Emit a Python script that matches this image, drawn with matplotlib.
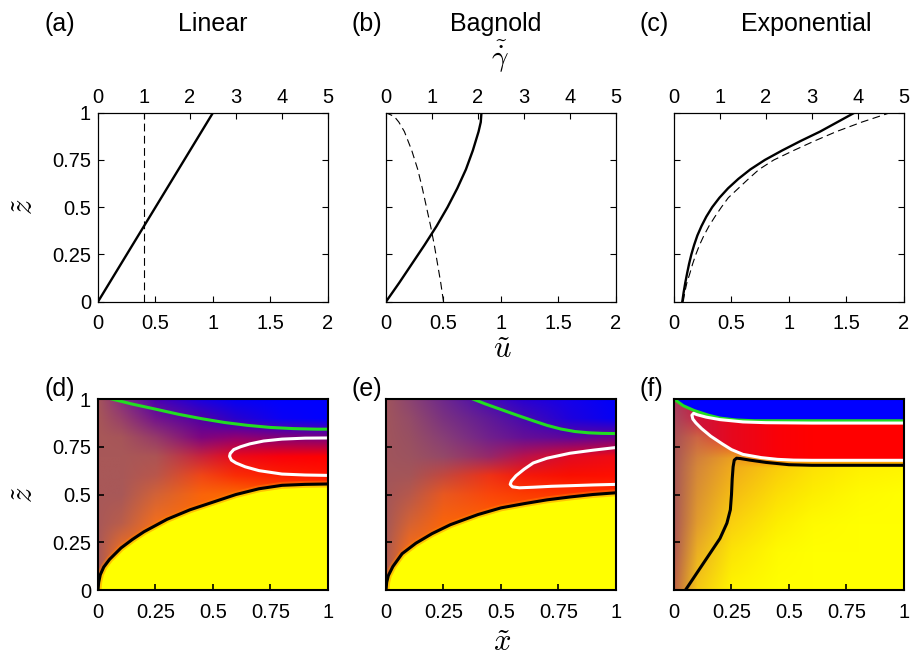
import numpy as np
import matplotlib
matplotlib.use("Agg")
import matplotlib.pyplot as plt
from matplotlib.patches import Polygon

plt.rcParams['font.family'] = ['Liberation Sans', 'DejaVu Sans']
plt.rcParams['mathtext.fontset'] = 'cm'

# ---- top row: velocity (solid, bottom axis) and shear rate (dashed, top axis)
z_lin = [0, 1]
u_lin = [0, 1.0]
zg_lin = [0, 1]
g_lin = [1.0, 1.0]

z_bag = [0, 0.1, 0.2, 0.3, 0.4, 0.5, 0.6, 0.7, 0.8, 0.9, 0.95, 1.0]
u_bag = [0, 0.115, 0.225, 0.335, 0.44, 0.535, 0.62, 0.695, 0.755, 0.805, 0.824, 0.83]
zg_bag = [0, 0.1, 0.2, 0.3, 0.4, 0.5, 0.6, 0.7, 0.8, 0.9, 0.95, 0.98, 1.0]
g_bag = [1.25, 1.19, 1.12, 1.05, 0.97, 0.88, 0.79, 0.69, 0.56, 0.40, 0.28, 0.18, 0.0]

z_exp = [0, 0.05, 0.1, 0.15, 0.2, 0.25, 0.3, 0.35, 0.4, 0.45, 0.5,
         0.55, 0.6, 0.65, 0.7, 0.75, 0.8, 0.85, 0.9, 0.95, 1.0]
u_exp = [0.072, 0.084, 0.098, 0.114, 0.131, 0.151, 0.175, 0.203, 0.239, 0.281, 0.332,
         0.395, 0.47, 0.56, 0.664, 0.79, 0.94, 1.10, 1.27, 1.42, 1.57]
zg_exp = z_exp
g_exp = [0.2, 0.235, 0.28, 0.345, 0.405, 0.475, 0.555, 0.65, 0.76, 0.89, 1.03,
         1.18, 1.40, 1.62, 1.85, 2.17, 2.6, 3.05, 3.53, 4.08, 4.70]

titles = ['Linear', 'Bagnold', 'Exponential']
top_letters = ['(a)', '(b)', '(c)']
bot_letters = ['(d)', '(e)', '(f)']

# ---- bottom row: contour lines (x, z)
green_d_x = [0.06, 0.15, 0.25, 0.35, 0.45, 0.55, 0.65, 0.75, 0.85, 0.95, 1.0]
green_d_z = [1.0, 0.973, 0.947, 0.92, 0.897, 0.877, 0.862, 0.851, 0.845, 0.842, 0.842]
white_d_x = [1.0, 0.9, 0.8, 0.72, 0.66, 0.62, 0.59, 0.575, 0.572, 0.58, 0.6, 0.64, 0.7, 0.8, 0.9, 1.0]
white_d_z = [0.796, 0.795, 0.79, 0.78, 0.765, 0.75, 0.735, 0.715, 0.70, 0.68, 0.665, 0.645, 0.625, 0.607, 0.602, 0.60]
black_d_x = [0, 0.003, 0.01, 0.025, 0.05, 0.1, 0.15, 0.2, 0.3, 0.4, 0.5, 0.6, 0.7, 0.8, 0.9, 1.0]
black_d_z = [0, 0.04, 0.08, 0.12, 0.16, 0.22, 0.265, 0.305, 0.37, 0.42, 0.46, 0.5, 0.53, 0.548, 0.553, 0.555]

green_e_x = [0.378, 0.43, 0.5, 0.57, 0.64, 0.7, 0.76, 0.82, 0.88, 0.94, 1.0]
green_e_z = [1.0, 0.975, 0.945, 0.915, 0.886, 0.862, 0.843, 0.83, 0.823, 0.82, 0.819]
white_e_x = [1.0, 0.9, 0.8, 0.7, 0.64, 0.6, 0.565, 0.545, 0.54, 0.55, 0.58, 0.64, 0.72, 0.8, 0.9, 1.0]
white_e_z = [0.746, 0.732, 0.716, 0.69, 0.665, 0.632, 0.598, 0.57, 0.553, 0.54, 0.535, 0.538, 0.543, 0.546, 0.55, 0.553]
black_e_x = [0, 0.003, 0.01, 0.03, 0.07, 0.13, 0.2, 0.28, 0.4, 0.5, 0.6, 0.7, 0.8, 0.9, 1.0]
black_e_z = [0, 0.04, 0.075, 0.123, 0.19, 0.245, 0.295, 0.342, 0.395, 0.43, 0.452, 0.472, 0.487, 0.5, 0.509]

green_f_x = [0, 0.04, 0.087, 0.15, 0.2, 0.27, 0.35, 0.5, 0.7, 1.0]
green_f_z = [1.0, 0.965, 0.94, 0.915, 0.9, 0.89, 0.886, 0.886, 0.886, 0.886]
white_f_x = [1.0, 0.6, 0.4, 0.3, 0.2, 0.14, 0.1, 0.085, 0.078, 0.082, 0.095, 0.12, 0.16, 0.21, 0.25, 0.3,
             0.38, 0.45, 0.52, 0.6, 1.0]
white_f_z = [0.874, 0.874, 0.876, 0.88, 0.892, 0.905, 0.918, 0.925, 0.915, 0.895, 0.875, 0.845, 0.805, 0.765,
             0.735, 0.71, 0.693, 0.684, 0.68, 0.679, 0.679]
black_f_x = [0.05, 0.1, 0.15, 0.2, 0.23, 0.245, 0.25, 0.253, 0.257, 0.262, 0.272, 0.29, 0.33, 0.4, 0.5, 0.6, 1.0]
black_f_z = [0.0, 0.09, 0.18, 0.27, 0.35, 0.42, 0.5, 0.58, 0.645, 0.68, 0.69, 0.688, 0.68, 0.668, 0.656, 0.653, 0.653]

# ---- colour samples of the maps (rows top -> bottom)
x_nodes = [0, 0.1, 0.25, 0.45, 0.6, 0.8, 1.0]
z_nodes = [1.0, 0.9, 0.8, 0.7, 0.6, 0.5, 0.35, 0.2, 0.0]
OR = (255, 110, 0)
YE = (255, 255, 0)
col_d = [
    [(165, 85, 90), (135, 45, 128), (75, 0, 175), (25, 0, 225), (5, 0, 245), (0, 0, 255), (0, 0, 255)],
    [(167, 87, 88), (152, 64, 106), (115, 20, 140), (80, 0, 165), (40, 0, 205), (10, 0, 245), (0, 0, 255)],
    [(168, 88, 88), (166, 85, 89), (150, 58, 105), (125, 5, 128), (145, 0, 112), (130, 0, 120), (120, 0, 130)],
    [(168, 88, 88), (168, 88, 88), (172, 84, 84), (200, 35, 60), (235, 10, 25), (250, 0, 10), (255, 0, 0)],
    [(168, 88, 88), (168, 88, 88), (185, 86, 75), (240, 70, 22), (250, 45, 5), (252, 30, 0), (255, 20, 0)],
    [(168, 88, 88), (168, 88, 88), (210, 98, 55), (250, 100, 10), (252, 105, 0), (255, 90, 0), (255, 80, 0)],
    [(168, 88, 88), (185, 93, 75), (242, 110, 28), OR, OR, (255, 100, 0), (255, 90, 0)],
    [(168, 88, 88), (238, 110, 32), OR, OR, OR, OR, OR],
    [(170, 90, 85), OR, OR, OR, OR, OR, OR],
]
col_e = [
    [(160, 85, 92), (140, 68, 112), (110, 40, 140), (70, 10, 180), (40, 0, 210), (20, 0, 235), (0, 0, 250)],
    [(160, 85, 92), (148, 76, 104), (122, 50, 128), (95, 25, 152), (70, 10, 175), (30, 0, 220), (5, 0, 245)],
    [(160, 85, 92), (152, 80, 98), (135, 62, 118), (112, 32, 140), (100, 15, 150), (95, 5, 155), (110, 0, 140)],
    [(160, 85, 92), (156, 83, 95), (148, 72, 104), (150, 40, 105), (185, 18, 75), (225, 10, 35), (240, 10, 20)],
    [(162, 86, 90), (164, 85, 88), (195, 72, 62), (238, 50, 22), (245, 25, 10), (250, 15, 0), (255, 15, 0)],
    [(164, 86, 88), (182, 88, 76), (232, 88, 32), (250, 70, 10), (252, 60, 0), (255, 55, 0), (255, 50, 0)],
    [(166, 88, 86), (212, 98, 52), (250, 100, 10), (255, 100, 0), (255, 100, 0), (255, 100, 0), (255, 100, 0)],
    [(172, 90, 82), (248, 108, 22), OR, OR, OR, OR, OR],
    [(180, 95, 80), OR, OR, OR, OR, OR, OR],
]
z_nodes_f = [1.0, 0.9, 0.8, 0.69, 0.64, 0.5, 0.35, 0.2, 0.0]
col_f = [
    [(165, 60, 100), (200, 20, 60), (220, 10, 40), (240, 0, 20), (250, 0, 10), (255, 0, 0), (255, 0, 0)],
    [(168, 72, 92), (200, 40, 70), (225, 15, 40), (245, 0, 15), (255, 0, 5), (255, 0, 0), (255, 0, 0)],
    [(168, 82, 86), (205, 100, 68), (228, 60, 45), (245, 20, 15), (255, 5, 0), (255, 0, 0), (255, 0, 0)],
    [(168, 86, 86), (210, 128, 60), (235, 160, 32), (250, 120, 5), OR, OR, OR],
    [(168, 88, 86), (213, 135, 57), (240, 170, 28), (250, 205, 10), (253, 225, 5), (255, 240, 0), (255, 245, 0)],
    [(168, 88, 86), (218, 145, 50), (245, 188, 20), (252, 222, 5), (253, 238, 0), (255, 250, 0), YE],
    [(170, 88, 85), (225, 155, 45), (250, 208, 15), (253, 238, 0), (255, 250, 0), YE, YE],
    [(175, 90, 82), (235, 175, 35), (252, 228, 6), (255, 250, 0), YE, YE, YE],
    [(190, 100, 70), (245, 200, 20), (255, 245, 0), YE, YE, YE, YE],
]
red_f = [(195, 25, 70), (205, 20, 60), (230, 8, 30), (250, 0, 8), (255, 0, 0), (255, 0, 0), (255, 0, 0)]


def smooth_map(xn, zn, grid, n=240):
    rgb = np.array(grid, dtype=float)[::-1] / 255.0
    zs = np.array(zn)[::-1]
    f = np.linspace(0, 1, n)
    cols = np.empty((n, len(xn), 3))
    for j in range(len(xn)):
        for k in range(3):
            cols[:, j, k] = np.interp(f, zs, rgb[:, j, k])
    img = np.empty((n, n, 3))
    for i in range(n):
        for k in range(3):
            img[i, :, k] = np.interp(f, xn, cols[i, :, k])
    return img


fig = plt.figure(figsize=(9.12, 6.69), dpi=100)
W, H = 912.0, 669.0
lefts = [98 / W, 386 / W, 674 / W]
pw = 230 / W
TS = 14.5

# top row
tops = [(u_lin, z_lin, g_lin, zg_lin), (u_bag, z_bag, g_bag, zg_bag), (u_exp, z_exp, g_exp, zg_exp)]
for i, (u, z, g, zg) in enumerate(tops):
    ax = fig.add_axes([lefts[i], 1 - 301.7 / H, pw, 189 / H])
    ax.plot(u, z, color='k', lw=1.7)
    ax.set_xlim(0, 2)
    ax.set_ylim(0, 1)
    ax.set_xticks([0, 0.5, 1, 1.5, 2])
    ax.set_xticklabels(['0', '0.5', '1', '1.5', '2'])
    ax.set_yticks([0, 0.25, 0.5, 0.75, 1])
    ax.set_yticklabels(['0', '0.25', '0.5', '0.75', '1'] if i == 0 else [])
    ax.tick_params(direction='in', length=4, width=0.8, right=True, labelsize=TS)
    ax.tick_params(axis='x', pad=9)
    ax.tick_params(axis='y', pad=5)
    for s in ax.spines.values():
        s.set_linewidth(0.8)
    ax2 = ax.twiny()
    ax2.plot(g, zg, color='k', lw=0.8, ls=(0, (7, 4)))
    ax2.set_xlim(0, 5)
    ax2.set_xticks(range(6))
    ax2.tick_params(direction='in', length=4, width=0.8, labelsize=TS, pad=4)
    ax2.set_ylim(0, 1)

# bottom row
maps = [
    (col_d, z_nodes, green_d_x, green_d_z, white_d_x, white_d_z, black_d_x, black_d_z),
    (col_e, z_nodes, green_e_x, green_e_z, white_e_x, white_e_z, black_e_x, black_e_z),
    (col_f, z_nodes_f, green_f_x, green_f_z, white_f_x, white_f_z, black_f_x, black_f_z),
]
for i, (grid, zn, gx, gz, wx, wz, bx, bz) in enumerate(maps):
    ax = fig.add_axes([lefts[i], 1 - 590 / H, pw, 191 / H])
    ax.imshow(smooth_map(x_nodes, zn, grid), extent=[0, 1, 0, 1], origin='lower',
              interpolation='bilinear', aspect='auto', zorder=0)
    if i < 2:
        ax.fill_between(bx, 0, bz, color=(1, 1, 0), lw=0, zorder=1)
        ax.plot(bx, bz, color=(1, 0.5, 0), lw=5, alpha=0.45, zorder=1.5)
    else:
        red = ax.imshow(smooth_map(x_nodes, [1, 0], [red_f, red_f]), extent=[0, 1, 0, 1],
                        origin='lower', interpolation='bilinear', aspect='auto', zorder=0.5)
        red.set_clip_path(Polygon(np.column_stack([wx, wz]), closed=True, transform=ax.transData))
        ax.fill_between(gx, gz, 1, color=(0, 0, 1), lw=0, zorder=1)
    ax.plot(gx, gz, color='#22dd22', lw=2.2, zorder=2)
    ax.plot(wx, wz, color='white', lw=2.2, zorder=2)
    ax.plot(bx, bz, color='k', lw=2.2, zorder=2)
    ax.set_xlim(0, 1)
    ax.set_ylim(0, 1)
    ax.set_xticks([0, 0.25, 0.5, 0.75, 1])
    ax.set_xticklabels(['0', '0.25', '0.5', '0.75', '1'])
    ax.set_yticks([0, 0.25, 0.5, 0.75, 1])
    ax.set_yticklabels(['0', '0.25', '0.5', '0.75', '1'] if i == 0 else [])
    ax.tick_params(direction='in', length=4, width=1.2, labelsize=TS)
    ax.tick_params(axis='x', pad=9)
    ax.tick_params(axis='y', pad=5)
    for s in ax.spines.values():
        s.set_linewidth(1.5)

# labels
def ftext(x, y, s, **kw):
    fig.text(x / W, 1 - y / H, s, ha='center', va='center', **kw)

for i in range(3):
    ftext([60, 367, 654][i], 24, top_letters[i], fontsize=18)
    ftext([213, 496, 806][i], 24, titles[i], fontsize=18)
    ftext([60, 367, 651][i], 389, bot_letters[i], fontsize=18)
ftext(500, 57, r'$\tilde{\dot{\gamma}}$', fontsize=21)
ftext(502, 350, r'$\tilde{u}$', fontsize=22)
ftext(502, 643, r'$\tilde{x}$', fontsize=22)
ftext(25, 207, r'$\tilde{z}$', fontsize=22, rotation=90)
ftext(25, 495, r'$\tilde{z}$', fontsize=22, rotation=90)

fig.savefig('out.png', dpi=100)
